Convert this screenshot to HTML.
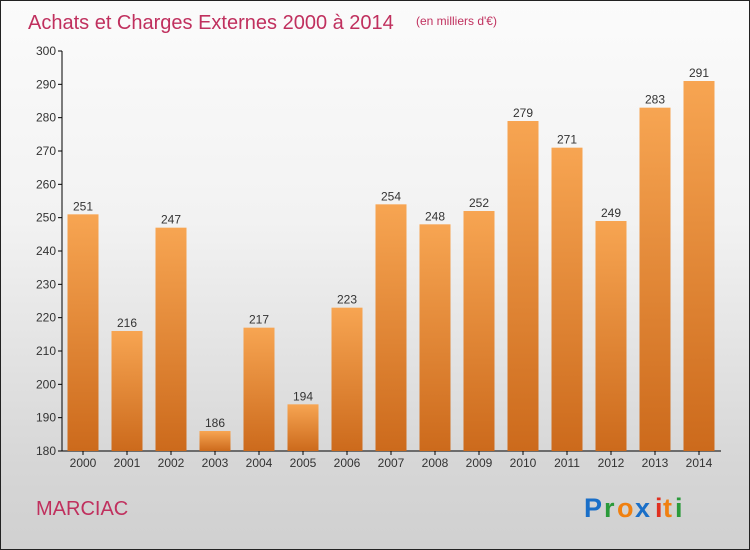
<!DOCTYPE html>
<html><head><meta charset="utf-8"><style>
body{margin:0}
#c{width:750px;height:550px;position:relative;box-sizing:border-box;border:1px solid #222;background:linear-gradient(#fbfbfb 0%,#f2f2f2 40%,#d6d6d6 85%,#d0d0d0 100%);font-family:"Liberation Sans",sans-serif;overflow:hidden}
</style></head><body>
<div id="c">
<svg width="750" height="550">
<defs><linearGradient id="bg" x1="0" y1="0" x2="0" y2="1"><stop offset="0" stop-color="#f7a552"/><stop offset="1" stop-color="#cc6a1c"/></linearGradient></defs>
<text x="27" y="28" font-size="20" fill="#c0305e">Achats et Charges Externes 2000 à 2014</text>
<text x="415" y="24" font-size="12" fill="#c0305e">(en milliers d'€)</text>
<g id="plot"></g>
<text x="35" y="514" font-size="20" fill="#c0305e">MARCIAC</text>
<g font-size="27" font-weight="bold" font-family="Liberation Sans,sans-serif">
<text x="583" y="516" fill="#1a6fc8">P</text><text x="603" y="516" fill="#2a9a3a">r</text><text x="616" y="516" fill="#f08010">o</text><text x="634" y="516" fill="#1a6fc8">x</text><text x="654" y="516" fill="#e03020">i</text><text x="662" y="516" fill="#f08010">t</text><text x="674" y="516" fill="#2a9a3a">i</text></g>
</svg></div>
<script>
const years=["2000","2001","2002","2003","2004","2005","2006","2007","2008","2009","2010","2011","2012","2013","2014"];
const values=[251,216,247,186,217,194,223,254,248,252,279,271,249,283,291];
const yTicks=[180,190,200,210,220,230,240,250,260,270,280,290,300];
const NS="http://www.w3.org/2000/svg";
const g=document.getElementById('plot');
const y=v=>450-(v-180)*400/120;
const x=i=>82+i*44;
function mk(t,a,txt){const e=document.createElementNS(NS,t);for(const k in a)e.setAttribute(k,a[k]);if(txt!=null)e.textContent=txt;g.appendChild(e);return e;}
const ax=mk('line',{x1:61,y1:50,x2:61,y2:450,stroke:'#000'});


const bx=mk('line',{x1:61,y1:450,x2:720,y2:450,stroke:'#000'});


yTicks.forEach(t=>{
 const l=mk('line',{x1:57,y1:y(t),x2:61,y2:y(t),stroke:'#000'});
 
 
 const s=mk('text',{x:55,y:y(t)+4,'font-size':12,fill:'#333','text-anchor':'end'},t);
 
 
});
values.forEach((v,i)=>{
 const r=mk('rect',{x:x(i)-15.5,y:y(v),width:31,height:450-y(v),fill:'url(#bg)'});
 
 
 const t=mk('text',{x:x(i),y:y(v)-4,'font-size':12,fill:'#333','text-anchor':'middle'},v);
 
 
 const k=mk('line',{x1:x(i),y1:450,x2:x(i),y2:454,stroke:'#000'});
 
 
 const yl=mk('text',{x:x(i),y:466,'font-size':12,fill:'#333','text-anchor':'middle'},years[i]);
 
 
});
</script>
</body></html>
